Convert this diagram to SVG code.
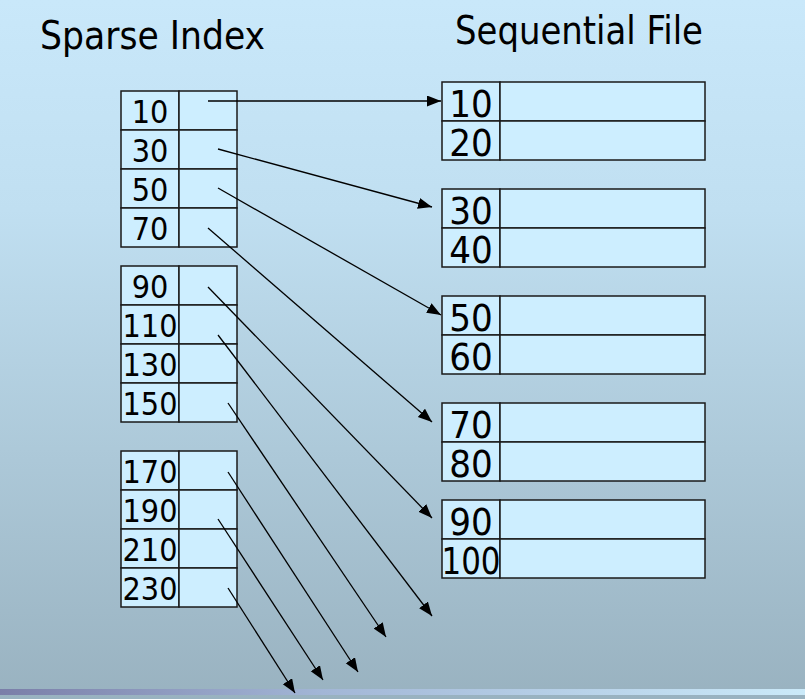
<svg xmlns="http://www.w3.org/2000/svg" width="805" height="699" viewBox="0 0 805 699">
<defs>
<linearGradient id="bg" x1="0" y1="0" x2="0" y2="1">
<stop offset="0" stop-color="#c9e8fa"/>
<stop offset="0.3" stop-color="#c0dff1"/>
<stop offset="1" stop-color="#99b2c0"/>
</linearGradient>
<linearGradient id="strip" x1="0" y1="0" x2="1" y2="0">
<stop offset="0" stop-color="#7a7ea8"/>
<stop offset="0.4" stop-color="#a2b6d6"/>
<stop offset="1" stop-color="#cbeaf9"/>
</linearGradient>
<marker id="ah" markerUnits="userSpaceOnUse" markerWidth="15" markerHeight="12" refX="14" refY="5.5" orient="auto">
<path d="M0,0 L14,5.5 L0,11 Z" fill="#000"/>
</marker>
</defs>
<style>
.cell{fill:#cdeeff;stroke:#1a1a1a;stroke-width:1.5}
.ix{font-family:"DejaVu Sans Condensed","DejaVu Sans",sans-serif;font-stretch:condensed;font-size:32px;fill:#000;text-anchor:middle}
.sq{font-family:"DejaVu Sans Condensed","DejaVu Sans",sans-serif;font-stretch:condensed;font-size:38px;fill:#000;text-anchor:middle}
.title{font-family:"DejaVu Sans Condensed","DejaVu Sans",sans-serif;font-stretch:condensed;font-size:39px;fill:#000}
.conn line{stroke:#000;stroke-width:1.3;marker-end:url(#ah)}
</style>
<rect x="0" y="0" width="805" height="699" fill="url(#bg)"/>
<rect x="0" y="689" width="805" height="6" fill="url(#strip)"/>

<text class="title" x="40" y="49" textLength="225" lengthAdjust="spacingAndGlyphs">Sparse Index</text>
<text class="title" x="455" y="44" textLength="248" lengthAdjust="spacingAndGlyphs">Sequential File</text>

<g id="index1">
<rect class="cell" x="121" y="91" width="58" height="39"/><rect class="cell" x="179" y="91" width="58" height="39"/>
<rect class="cell" x="121" y="130" width="58" height="39"/><rect class="cell" x="179" y="130" width="58" height="39"/>
<rect class="cell" x="121" y="169" width="58" height="39"/><rect class="cell" x="179" y="169" width="58" height="39"/>
<rect class="cell" x="121" y="208" width="58" height="39"/><rect class="cell" x="179" y="208" width="58" height="39"/>
<text class="ix" x="150" y="123">10</text>
<text class="ix" x="150" y="162">30</text>
<text class="ix" x="150" y="201">50</text>
<text class="ix" x="150" y="240">70</text>
</g>
<g id="index2">
<rect class="cell" x="121" y="266" width="58" height="39"/><rect class="cell" x="179" y="266" width="58" height="39"/>
<rect class="cell" x="121" y="305" width="58" height="39"/><rect class="cell" x="179" y="305" width="58" height="39"/>
<rect class="cell" x="121" y="344" width="58" height="39"/><rect class="cell" x="179" y="344" width="58" height="39"/>
<rect class="cell" x="121" y="383" width="58" height="39"/><rect class="cell" x="179" y="383" width="58" height="39"/>
<text class="ix" x="150" y="298">90</text>
<text class="ix" x="150" y="337">110</text>
<text class="ix" x="150" y="376">130</text>
<text class="ix" x="150" y="415">150</text>
</g>
<g id="index3">
<rect class="cell" x="121" y="451" width="58" height="39"/><rect class="cell" x="179" y="451" width="58" height="39"/>
<rect class="cell" x="121" y="490" width="58" height="39"/><rect class="cell" x="179" y="490" width="58" height="39"/>
<rect class="cell" x="121" y="529" width="58" height="39"/><rect class="cell" x="179" y="529" width="58" height="39"/>
<rect class="cell" x="121" y="568" width="58" height="39"/><rect class="cell" x="179" y="568" width="58" height="39"/>
<text class="ix" x="150" y="483">170</text>
<text class="ix" x="150" y="522">190</text>
<text class="ix" x="150" y="561">210</text>
<text class="ix" x="150" y="600">230</text>
</g>

<g id="block1">
<rect class="cell" x="442" y="82" width="58" height="39"/><rect class="cell" x="500" y="82" width="205" height="39"/>
<rect class="cell" x="442" y="121" width="58" height="39"/><rect class="cell" x="500" y="121" width="205" height="39"/>
<text class="sq" x="471" y="117">10</text>
<text class="sq" x="471" y="156">20</text>
</g>
<g id="block2">
<rect class="cell" x="442" y="189" width="58" height="39"/><rect class="cell" x="500" y="189" width="205" height="39"/>
<rect class="cell" x="442" y="228" width="58" height="39"/><rect class="cell" x="500" y="228" width="205" height="39"/>
<text class="sq" x="471" y="224">30</text>
<text class="sq" x="471" y="263">40</text>
</g>
<g id="block3">
<rect class="cell" x="442" y="296" width="58" height="39"/><rect class="cell" x="500" y="296" width="205" height="39"/>
<rect class="cell" x="442" y="335" width="58" height="39"/><rect class="cell" x="500" y="335" width="205" height="39"/>
<text class="sq" x="471" y="331">50</text>
<text class="sq" x="471" y="370">60</text>
</g>
<g id="block4">
<rect class="cell" x="442" y="403" width="58" height="39"/><rect class="cell" x="500" y="403" width="205" height="39"/>
<rect class="cell" x="442" y="442" width="58" height="39"/><rect class="cell" x="500" y="442" width="205" height="39"/>
<text class="sq" x="471" y="438">70</text>
<text class="sq" x="471" y="477">80</text>
</g>
<g id="block5">
<rect class="cell" x="442" y="500" width="58" height="39"/><rect class="cell" x="500" y="500" width="205" height="39"/>
<rect class="cell" x="442" y="539" width="58" height="39"/><rect class="cell" x="500" y="539" width="205" height="39"/>
<text class="sq" x="471" y="535">90</text>
<text class="sq" x="471" y="574" textLength="59" lengthAdjust="spacingAndGlyphs">100</text>
</g>

<g id="connectors" class="conn">
<line x1="208" y1="101" x2="441" y2="101"/>
<line x1="218" y1="149" x2="432" y2="207"/>
<line x1="218" y1="188" x2="441" y2="315"/>
<line x1="208" y1="228" x2="432" y2="422"/>
<line x1="208" y1="287" x2="432" y2="518"/>
<line x1="218" y1="335" x2="432" y2="616"/>
<line x1="228" y1="403" x2="386" y2="637"/>
<line x1="228" y1="472" x2="358" y2="672"/>
<line x1="218" y1="519" x2="323" y2="680"/>
<line x1="228" y1="588" x2="295" y2="693"/>
</g>
</svg>
